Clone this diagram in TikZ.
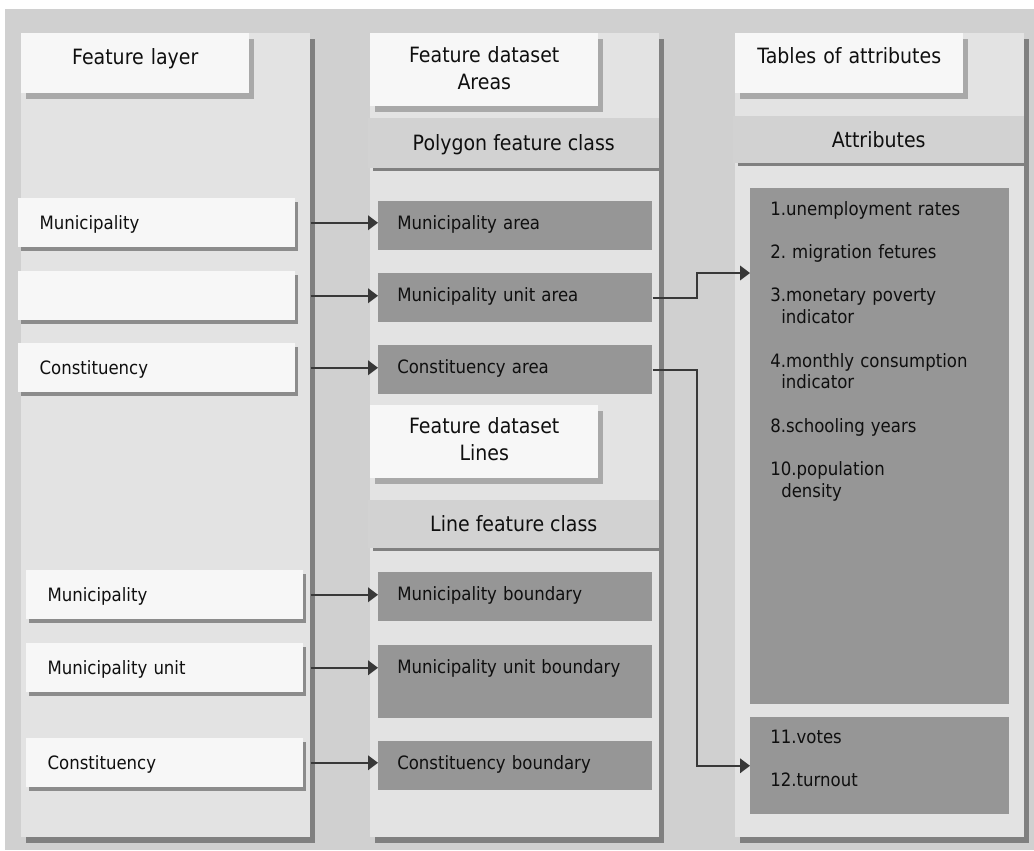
\documentclass[tikz,border=0pt]{standalone}
\usepackage{fontspec}
\setmainfont{DejaVu Sans}[FakeStretch=0.9]
\usetikzlibrary{shadows,calc,arrows.meta}
\frenchspacing

\definecolor{backdrop}{HTML}{D0D0D0}
\definecolor{panelfill}{HTML}{E3E3E3}
\definecolor{panelshadow}{HTML}{808080}
\definecolor{boxwhite}{HTML}{F7F7F7}
\definecolor{headshadow}{HTML}{A9A9A9}
\definecolor{itemshadow}{HTML}{8C8C8C}
\definecolor{bandfill}{HTML}{D2D2D2}
\definecolor{darkfill}{HTML}{969696}
\definecolor{ink}{HTML}{0F0F0F}
\definecolor{wire}{HTML}{383838}

\newcommand{\diagbody}{\fontsize{13.8pt}{16.3pt}\selectfont}
\newcommand{\diaghead}{\fontsize{15.8pt}{20.25pt}\selectfont}

\begin{document}
\begin{tikzpicture}[x=0.75pt, y=-0.75pt, text=ink,
  panel/.style={fill=panelfill, anchor=north west, inner sep=0pt,
    minimum width=216.75pt, minimum height=603pt,
    drop shadow={shadow xshift=3.75pt, shadow yshift=-4.5pt, opacity=1, fill=panelshadow}},
  header/.style={fill=boxwhite, anchor=north west, inner sep=0pt, minimum width=171pt,
    drop shadow={shadow xshift=3.75pt, shadow yshift=-4.5pt, opacity=1, fill=headshadow}},
  headtext/.style={anchor=base, inner sep=0pt, text width=171pt, align=center, font=\diaghead},
  band/.style={fill=bandfill, anchor=north west, inner sep=0pt, minimum width=218.25pt,
    text height=11.5pt, text depth=0pt, font=\diaghead,
    drop shadow={shadow xshift=3.75pt, shadow yshift=-2.25pt, opacity=1, fill=panelshadow}},
  item/.style={fill=boxwhite, anchor=north west, inner xsep=16pt, inner ysep=0pt,
    text width=175.5pt, align=left, minimum height=36.75pt,
    text height=10pt, text depth=0pt, font=\diagbody,
    drop shadow={shadow xshift=2.25pt, shadow yshift=-3pt, opacity=1, fill=itemshadow}},
  dark/.style={fill=darkfill, anchor=north west, inner xsep=14.25pt, inner ysep=0pt,
    text width=177pt, align=left, minimum height=36.75pt,
    text height=10pt, text depth=4.5pt, font=\diagbody},
  slab/.style={fill=darkfill, anchor=north west, inner sep=0pt, minimum width=194.25pt},
  listtext/.style={anchor=base west, inner sep=0pt, text width=180pt, align=left, font=\diagbody},
  conn/.style={draw=wire, line width=1.2pt, -{Triangle[length=7.5pt, width=11pt]}}
]
\useasboundingbox (0,0) rectangle (1034,850);
\fill[backdrop] (5,9) rectangle (1034,850);

% the three columns
\node[panel] (p1) at (21,33) {};
\node[panel] (p2) at (370,33) {};
\node[panel] (p3) at (735,33) {};

% column headings
\node[header, minimum height=45pt] (hlayer) at (21,33) {};
\node[headtext] (hlayert) at ($(hlayer.north)+(0,31)$) {Feature layer};
\node[header, minimum height=54.75pt] (hareas) at (370,33) {};
\node[headtext] (hareast) at ($(hareas.north)+(0,29)$) {Feature dataset\\Areas};
\node[header, minimum height=45pt] (htables) at (735,33) {};
\node[headtext] (htablest) at ($(htables.north)+(0,30)$) {Tables of attributes};
\node[header, minimum height=54.75pt] (hlines) at (370,405) {};
\node[headtext] (hlinest) at ($(hlines.north)+(0,28)$) {Feature dataset\\Lines};

% class bands
\node[band, minimum height=37.5pt] (bpoly) at (368,118) {Polygon feature class};
\node[band, minimum height=36pt] (bline) at (368,500) {Line feature class};
\node[band, minimum height=35.25pt] (battr) at (733,116) {Attributes};

% feature layers
\node[item] (fm) at (18,198) {Municipality};
\node[item] (fu) at (18,271) {};
\node[item] (fc) at (18,343) {Constituency};
\node[item] (lm) at (26,570) {Municipality};
\node[item] (lu) at (26,643) {Municipality unit};
\node[item] (lc) at (26,738) {Constituency};

% feature classes
\node[dark] (am) at (378,201) {Municipality area};
\node[dark] (au) at (378,273) {Municipality unit area};
\node[dark] (ac) at (378,345) {Constituency area};
\node[dark] (bm) at (378,572) {Municipality boundary};
\node[dark, minimum height=54.75pt, text depth=22.7pt] (bu) at (378,645) {Municipality unit boundary};
\node[dark] (bc) at (378,741) {Constituency boundary};

% attribute tables
\node[slab, minimum height=387pt] (attr) at (750,188) {};
\node[listtext] (attrt) at ($(attr.north west)+(20,27)$) {1.unemployment rates\\[16.3pt]
  2. migration fetures\\[16.3pt]
  3.monetary poverty\\\hspace*{8.25pt}indicator\\[16.3pt]
  4.monthly consumption\\\hspace*{8.25pt}indicator\\[16.3pt]
  8.schooling years\\[16.3pt]
  10.population\\\hspace*{8.25pt}density};
\node[slab, minimum height=72.75pt] (votes) at (750,717) {};
\node[listtext] (votest) at ($(votes.north west)+(20,26)$) {11.votes\\[16.3pt]12.turnout};

% connectors
\coordinate (elbow) at ($(p2.east)!0.5!(p3.west)$);
\coordinate (t1) at ($(attr.north west)+(0,85)$);
\draw[conn] (p1.east |- fm) -- (am.west |- fm);
\draw[conn] (p1.east |- fu) -- (au.west |- fu);
\draw[conn] (p1.east |- fc) -- (ac.west |- fc);
\draw[conn] (p1.east |- lm) -- (bm.west |- lm);
\draw[conn] (p1.east |- lu) -- (bu.west |- lu);
\draw[conn] (p1.east |- lc) -- (bc.west |- lc);
\draw[conn] (au.east) -- (au.east -| elbow) |- (t1);
\draw[conn] (ac.east) -- (ac.east -| elbow) |- (votes.west);
\end{tikzpicture}
\end{document}
